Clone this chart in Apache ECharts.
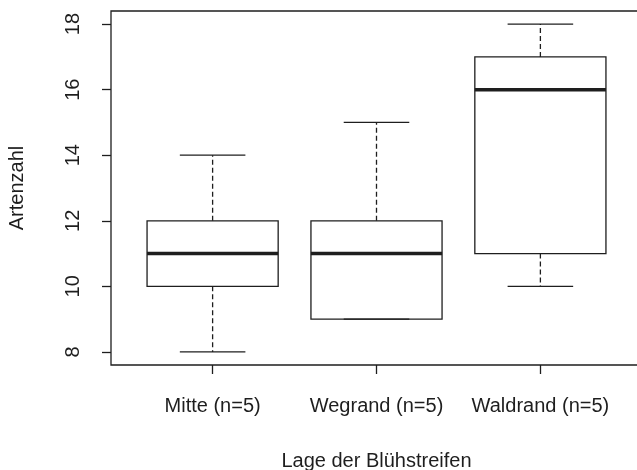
<!DOCTYPE html>
<html>
<head>
<meta charset="utf-8">
<script src="https://cdn.jsdelivr.net/npm/echarts@6/dist/echarts.min.js"></script>
<style>
  html, body { margin: 0; padding: 0; background: #fff; }
  #chart { width: 637px; height: 470px; }
</style>
</head>
<body>
<div id="chart"></div>
<script>
// Species counts per flower-strip position: five-number summaries
const categories = ['Mitte (n=5)', 'Wegrand (n=5)', 'Waldrand (n=5)'];
const lowerWhisker = [8, 9, 10];
const lowerQuartile = [10, 9, 11];
const medians = [11, 11, 16];
const upperQuartile = [12, 12, 17];
const upperWhisker = [14, 15, 18];
const yTicks = [8, 10, 12, 14, 16, 18];
const xTitle = 'Lage der Blühstreifen';
const yTitle = 'Artenzahl';

const boxData = categories.map((c, i) => [
  i + 1, lowerWhisker[i], lowerQuartile[i], medians[i], upperQuartile[i], upperWhisker[i]
]);

const ink = '#1e1e1e';
const font = '"Liberation Sans", Arial, sans-serif';

function renderBox(params, api) {
  const x = api.value(0);
  const vMin = api.value(1), q1 = api.value(2), med = api.value(3), q3 = api.value(4), vMax = api.value(5);
  const halfBox = api.size([0.4, 0])[0];
  const halfCap = api.size([0.2, 0])[0];
  const cx = api.coord([x, med])[0];
  const yMin = api.coord([x, vMin])[1];
  const yQ1 = api.coord([x, q1])[1];
  const yMed = api.coord([x, med])[1];
  const yQ3 = api.coord([x, q3])[1];
  const yMax = api.coord([x, vMax])[1];
  const solid = { stroke: ink, lineWidth: 1.3, fill: null };
  const dashed = { stroke: ink, lineWidth: 1.3, lineDash: [5, 3] };
  const children = [
    { type: 'rect', shape: { x: cx - halfBox, y: yQ3, width: 2 * halfBox, height: yQ1 - yQ3 }, style: solid },
    { type: 'line', shape: { x1: cx - halfBox, y1: yMed, x2: cx + halfBox, y2: yMed }, style: { stroke: ink, lineWidth: 3.5 } }
  ];
  if (vMax > q3) {
    children.push({ type: 'line', shape: { x1: cx, y1: yQ3, x2: cx, y2: yMax }, style: dashed });
  }
  children.push({ type: 'line', shape: { x1: cx - halfCap, y1: yMax, x2: cx + halfCap, y2: yMax }, style: solid });
  if (vMin < q1) {
    children.push({ type: 'line', shape: { x1: cx, y1: yQ1, x2: cx, y2: yMin }, style: dashed });
  }
  children.push({ type: 'line', shape: { x1: cx - halfCap, y1: yMin, x2: cx + halfCap, y2: yMin }, style: solid });
  return { type: 'group', children };
}

const chart = echarts.init(document.getElementById('chart'), null, { renderer: 'canvas' });
chart.setOption({
  animation: false,
  backgroundColor: '#fff',
  grid: {
    left: 111, top: 11, width: 531, height: 354,
    outerBoundsMode: 'none', containLabel: false,
    show: true, borderColor: ink, borderWidth: 1.3, backgroundColor: 'transparent'
  },
  xAxis: {
    type: 'value',
    min: 0.38,
    max: 3.62,
    splitLine: { show: false },
    axisLine: { show: false },
    axisTick: { show: true, length: 9, inside: false, customValues: [1, 2, 3], lineStyle: { color: ink, width: 1.3 } },
    axisLabel: {
      customValues: [1, 2, 3],
      formatter: v => categories[Math.round(v) - 1] || '',
      color: ink, fontFamily: font, fontSize: 20, margin: 31
    },
    name: xTitle,
    nameLocation: 'middle',
    nameGap: 86,
    nameTextStyle: { color: ink, fontFamily: font, fontSize: 20 }
  },
  yAxis: {
    type: 'value',
    min: 7.6,
    max: 18.4,
    splitLine: { show: false },
    axisLine: { show: false },
    axisTick: { show: true, length: 9, customValues: yTicks, lineStyle: { color: ink, width: 1.3 } },
    axisLabel: {
      customValues: yTicks,
      rotate: 90,
      color: ink, fontFamily: font, fontSize: 20, margin: 28
    },
    name: yTitle,
    nameLocation: 'middle',
    nameGap: 84,
    nameRotate: 90,
    nameTextStyle: { color: ink, fontFamily: font, fontSize: 20 }
  },
  series: [{
    type: 'custom',
    renderItem: renderBox,
    encode: { x: 0, y: [1, 2, 3, 4, 5] },
    data: boxData,
    clip: false
  }]
});
</script>
</body>
</html>
